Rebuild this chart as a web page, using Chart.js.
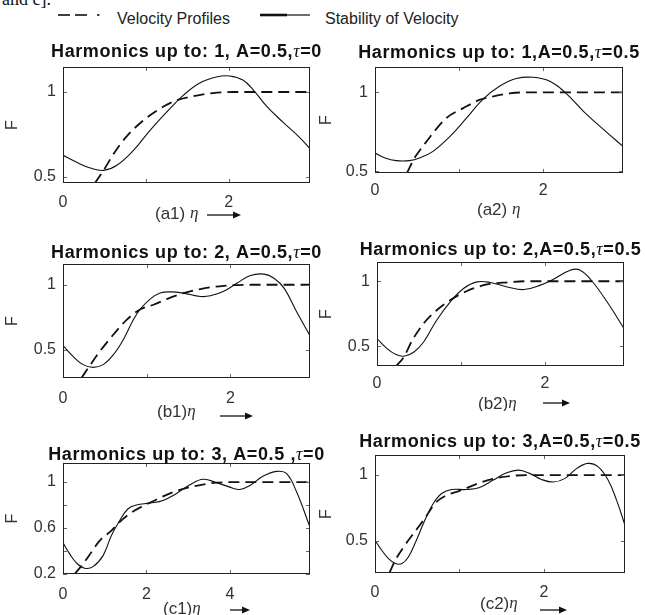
<!DOCTYPE html>
<html>
<head>
<meta charset="utf-8">
<script src="https://cdn.jsdelivr.net/npm/chart.js@4.4.1/dist/chart.umd.min.js"></script>
<style>
  html, body { margin: 0; padding: 0; background: #fff; }
  body { width: 645px; height: 615px; position: relative; overflow: hidden; font-family: "Liberation Sans", Arial, sans-serif; }
  .panel { position: absolute; }
  #cut { position: absolute; left: 2px; top: -10px; font: 18px "Liberation Serif", serif; line-height: 18px; color: #111; }
  #legend { position: absolute; left: 0; top: 0; }
</style>
</head>
<body>
<div id="cut">and c].</div>
<svg id="legend" width="645" height="32">
  <g stroke="#111" stroke-width="1.6">
    <line x1="58" y1="15" x2="70" y2="15"/>
    <line x1="75" y1="15" x2="87" y2="15"/>
    <line x1="97" y1="15" x2="99.5" y2="15"/>
    <line x1="260" y1="15" x2="287" y2="15" stroke-width="2.6"/>
    <line x1="287" y1="15" x2="310" y2="15" stroke-width="1.2"/>
  </g>
  <g font-family="Liberation Sans, Arial, sans-serif" font-size="16" fill="#222">
    <text x="117" y="24">Velocity Profiles</text>
    <text x="325" y="24">Stability of Velocity</text>
  </g>
</svg>
<script>
// ---- data ----
const a1Eta = [0, 0.16, 0.33, 0.49, 0.65, 0.85, 1.05, 1.25, 1.45, 1.65, 1.85, 2.01, 2.17, 2.3, 2.45, 2.65, 2.85, 2.98];
const a1Stability = [0.628, 0.588, 0.553, 0.539, 0.569, 0.657, 0.775, 0.882, 0.98, 1.053, 1.088, 1.094, 1.07, 1.01, 0.92, 0.824, 0.735, 0.667];
const a1ProfileEta = [0.386, 0.49, 0.6, 0.76, 0.97, 1.17, 1.37, 1.57, 1.81, 2.05, 2.98];
const a1Profile = [0.465, 0.54, 0.628, 0.735, 0.833, 0.902, 0.951, 0.975, 0.994, 1.0, 1.0];

const a2Eta = [0, 0.12, 0.25, 0.41, 0.53, 0.69, 0.89, 1.09, 1.28, 1.48, 1.68, 1.88, 2.08, 2.26, 2.48, 2.72, 2.95];
const a2Stability = [0.616, 0.585, 0.568, 0.568, 0.585, 0.627, 0.72, 0.838, 0.954, 1.038, 1.087, 1.095, 1.07, 1.0, 0.88, 0.764, 0.658];
const a2ProfileEta = [0.38, 0.47, 0.57, 0.69, 0.85, 1.05, 1.25, 1.41, 1.6, 1.8, 2.95];
const a2Profile = [0.49, 0.585, 0.658, 0.743, 0.838, 0.9, 0.954, 0.975, 0.993, 1.0, 1.0];

const b1Eta = [0, 0.12, 0.24, 0.36, 0.48, 0.6, 0.72, 0.84, 0.92, 1.04, 1.16, 1.28, 1.44, 1.64, 1.76, 1.92, 2.08, 2.24, 2.4, 2.52, 2.64, 2.8, 2.95];
const b1Stability = [0.531, 0.448, 0.385, 0.364, 0.385, 0.46, 0.577, 0.73, 0.81, 0.89, 0.936, 0.945, 0.936, 0.91, 0.915, 0.95, 1.013, 1.072, 1.082, 1.05, 0.974, 0.78, 0.608];
const b1ProfileEta = [0.22, 0.32, 0.44, 0.6, 0.76, 0.92, 1.08, 1.24, 1.44, 1.64, 1.92, 2.24, 2.95];
const b1Profile = [0.282, 0.377, 0.487, 0.615, 0.73, 0.81, 0.846, 0.89, 0.936, 0.967, 0.992, 1.0, 1.0];

const b2Eta = [0, 0.12, 0.22, 0.32, 0.44, 0.555, 0.71, 0.87, 1.03, 1.19, 1.35, 1.55, 1.75, 1.945, 2.1, 2.3, 2.42, 2.56, 2.74, 2.94];
const b2Stability = [0.559, 0.482, 0.438, 0.423, 0.456, 0.533, 0.7, 0.84, 0.944, 0.995, 0.99, 0.956, 0.936, 0.97, 1.015, 1.085, 1.085, 1.0, 0.84, 0.636];
const b2ProfileEta = [0.23, 0.32, 0.42, 0.555, 0.71, 0.87, 1.07, 1.31, 1.55, 1.79, 2.94];
const b2Profile = [0.348, 0.418, 0.546, 0.675, 0.777, 0.854, 0.925, 0.975, 0.992, 1.0, 1.0];

const c1Eta = [0, 0.16, 0.32, 0.52, 0.72, 0.96, 1.16, 1.36, 1.56, 1.76, 2.08, 2.4, 2.72, 3.04, 3.36, 3.68, 4.0, 4.24, 4.48, 4.8, 5.12, 5.36, 5.6, 5.92];
const c1Stability = [0.471, 0.375, 0.297, 0.25, 0.264, 0.36, 0.535, 0.666, 0.768, 0.8, 0.817, 0.84, 0.9, 0.977, 1.024, 0.995, 0.956, 0.936, 0.97, 1.052, 1.093, 1.073, 0.913, 0.607];
const c1ProfileEta = [0.28, 0.48, 0.68, 0.88, 1.16, 1.44, 1.72, 2.08, 2.64, 3.12, 3.68, 4.16, 5.92];
const c1Profile = [0.2, 0.288, 0.389, 0.49, 0.578, 0.68, 0.753, 0.82, 0.913, 0.962, 0.995, 1.0, 1.0];

const c2Eta = [0, 0.08, 0.16, 0.24, 0.32, 0.395, 0.49, 0.59, 0.69, 0.79, 0.91, 1.08, 1.24, 1.4, 1.56, 1.7, 1.83, 1.97, 2.11, 2.25, 2.39, 2.52, 2.64, 2.76, 2.86, 2.96];
const c2Stability = [0.504, 0.427, 0.364, 0.326, 0.326, 0.376, 0.504, 0.656, 0.784, 0.86, 0.89, 0.89, 0.906, 0.962, 1.018, 1.038, 1.013, 0.967, 0.947, 0.975, 1.051, 1.089, 1.064, 0.962, 0.809, 0.618];
const c2ProfileEta = [0.17, 0.24, 0.34, 0.47, 0.59, 0.71, 0.85, 1.0, 1.24, 1.48, 1.8, 2.96];
const c2Profile = [0.254, 0.351, 0.453, 0.567, 0.67, 0.784, 0.847, 0.88, 0.941, 0.982, 1.0, 1.0];

// tick values and the ones that carry a label
const etaTicks = [0, 1, 2];
const etaTickLabels = [0, 2];
const c1EtaTicks = [0, 2, 4];
const c1EtaTickLabels = [0, 2, 4];
const fTicks = [0.5, 1];
const fTickLabels = [0.5, 1];
const c1FTicks = [0.2, 0.4, 0.6, 0.8, 1];
const c1FTickLabels = [0.2, 0.6, 1];

const titles = [
    ['Harmonics up to: 1, A=0.5,', '=0'],
    ['Harmonics up to: 1,A=0.5,', '=0.5'],
    ['Harmonics up to: 2, A=0.5,', '=0'],
    ['Harmonics up to: 2,A=0.5,', '=0.5'],
    ['Harmonics up to: 3, A=0.5 ,', '=0'],
    ['Harmonics up to: 3,A=0.5,', '=0.5'],
];
const panelLabels = ['(a1) ', '(a2) ', '(b1)', '(b2)', '(c1)', '(c2)'];

const SANS = '"Liberation Sans", Arial, sans-serif';
const SERIF = '"Liberation Serif", "DejaVu Serif", serif';

function zip(xs, ys) {
    return xs.map((x, i) => ({ x, y: ys[i] }));
}

function drawRuns(ctx, runs, x, y, centred) {
    let w = 0;
    runs.forEach(r => { ctx.font = r.font; w += ctx.measureText(r.text).width; });
    let px = centred ? x - w / 2 : x;
    runs.forEach(r => {
        ctx.font = r.font;
        ctx.fillText(r.text, px, y);
        px += ctx.measureText(r.text).width;
    });
}

// frame, inward ticks, titles and axis captions
const decor = {
    id: 'decor',
    afterDatasetsDraw(chart, args, opts) {
        const { ctx, chartArea: a, scales: { x, y } } = chart;
        ctx.save();

        ctx.strokeStyle = '#666';
        ctx.lineWidth = 1;
        ctx.beginPath();
        opts.xTicks.forEach(v => {
            const px = Math.round(x.getPixelForValue(v)) + 0.5;
            ctx.moveTo(px, a.bottom); ctx.lineTo(px, a.bottom - 4);
            ctx.moveTo(px, a.top); ctx.lineTo(px, a.top + 4);
        });
        opts.yTicks.forEach(v => {
            const py = Math.round(y.getPixelForValue(v)) + 0.5;
            ctx.moveTo(a.left, py); ctx.lineTo(a.left + 4, py);
            ctx.moveTo(a.right, py); ctx.lineTo(a.right - 4, py);
        });
        ctx.stroke();

        ctx.strokeStyle = '#222';
        ctx.strokeRect(a.left + 0.5, a.top + 0.5, a.width - 1, a.height - 1);

        // title
        ctx.fillStyle = '#111';
        ctx.textBaseline = 'alphabetic';
        ctx.textAlign = 'left';
        if ('letterSpacing' in ctx) ctx.letterSpacing = '0.6px';
        drawRuns(ctx, [
            { text: opts.title[0], font: 'bold 18px ' + SANS },
            { text: '\u03C4', font: 'italic 18px ' + SERIF },
            { text: opts.title[1], font: 'bold 18px ' + SANS },
        ], (a.left + a.right) / 2, a.top + opts.titleDy, true);
        if ('letterSpacing' in ctx) ctx.letterSpacing = '0px';

        // F
        ctx.fillStyle = '#333';
        ctx.save();
        ctx.translate(a.left + opts.fDx, (a.top + a.bottom) / 2);
        ctx.rotate(-Math.PI / 2);
        ctx.textAlign = 'center';
        ctx.textBaseline = 'middle';
        ctx.font = '16px ' + SANS;
        ctx.fillText('F', 0, 0);
        ctx.restore();

        // (a1) eta caption with arrow
        ctx.textBaseline = 'middle';
        ctx.textAlign = 'left';
        drawRuns(ctx, [
            { text: opts.label, font: '17px ' + SANS },
            { text: '\u03B7', font: 'italic 17px ' + SERIF },
        ], a.left + opts.labelAt[0], a.bottom + opts.labelAt[1], false);

        if (opts.arrow) {
            const [x0, x1, dy] = opts.arrow;
            const ay = a.bottom + dy;
            ctx.strokeStyle = '#111';
            ctx.fillStyle = '#111';
            ctx.lineWidth = 1.3;
            ctx.beginPath();
            ctx.moveTo(a.left + x0, ay);
            ctx.lineTo(a.left + x1 - 5, ay);
            ctx.stroke();
            ctx.beginPath();
            ctx.moveTo(a.left + x1, ay);
            ctx.lineTo(a.left + x1 - 8, ay - 3.5);
            ctx.lineTo(a.left + x1 - 8, ay + 3.5);
            ctx.closePath();
            ctx.fill();
        }
        ctx.restore();
    },
};

const panels = [
    { box: [63, 67, 310, 183], xMax: 2.98, yMin: 0.465, yMax: 1.147,
      eta: a1Eta, stab: a1Stability, profEta: a1ProfileEta, prof: a1Profile,
      xTicks: etaTicks, xLabels: etaTickLabels, yTicks: fTicks, yLabels: fTickLabels,
      xPad: 10, titleDy: -10, fDx: -50, labelAt: [92, 31], arrow: [144, 178, 32] },
    { box: [375, 67, 623, 173], xMax: 2.95, yMin: 0.49, yMax: 1.16,
      eta: a2Eta, stab: a2Stability, profEta: a2ProfileEta, prof: a2Profile,
      xTicks: etaTicks, xLabels: etaTickLabels, yTicks: fTicks, yLabels: fTickLabels,
      xPad: 8, titleDy: -9, fDx: -48, labelAt: [102, 37], arrow: null },
    { box: [63, 264, 310, 378], xMax: 2.95, yMin: 0.282, yMax: 1.16,
      eta: b1Eta, stab: b1Stability, profEta: b1ProfileEta, prof: b1Profile,
      xTicks: etaTicks, xLabels: etaTickLabels, yTicks: fTicks, yLabels: fTickLabels,
      xPad: 11, titleDy: -6, fDx: -50, labelAt: [94, 34], arrow: [157, 190, 38] },
    { box: [377, 262, 624, 366], xMax: 2.94, yMin: 0.348, yMax: 1.148,
      eta: b2Eta, stab: b2Stability, profEta: b2ProfileEta, prof: b2Profile,
      xTicks: etaTicks, xLabels: etaTickLabels, yTicks: fTicks, yLabels: fTickLabels,
      xPad: 8, titleDy: -7, fDx: -50, labelAt: [101, 38], arrow: [166, 193, 37] },
    { box: [63, 463, 310, 574], xMax: 5.92, yMin: 0.2, yMax: 1.166,
      eta: c1Eta, stab: c1Stability, profEta: c1ProfileEta, prof: c1Profile,
      xTicks: c1EtaTicks, xLabels: c1EtaTickLabels, yTicks: c1FTicks, yLabels: c1FTickLabels,
      xPad: 11, titleDy: -3, fDx: -50, labelAt: [100, 35], arrow: [167, 187, 36] },
    { box: [375, 455, 625, 573], xMax: 2.96, yMin: 0.254, yMax: 1.153,
      eta: c2Eta, stab: c2Stability, profEta: c2ProfileEta, prof: c2Profile,
      xTicks: etaTicks, xLabels: etaTickLabels, yTicks: fTicks, yLabels: fTickLabels,
      xPad: 10, titleDy: -8, fDx: -48, labelAt: [105, 31], arrow: [165, 192, 37] },
];

panels.forEach((p, i) => {
    const [L, T, R, B] = p.box;
    const holder = document.createElement('div');
    holder.className = 'panel';
    holder.style.left = (L - 60) + 'px';
    holder.style.top = (T - 30) + 'px';
    const canvas = document.createElement('canvas');
    canvas.width = R - L + 80;
    canvas.height = B - T + 75;
    holder.appendChild(canvas);
    document.body.appendChild(holder);

    new Chart(canvas, {
        type: 'line',
        data: {
            datasets: [
                {
                    label: 'Velocity Profiles',
                    data: zip(p.profEta, p.prof),
                    borderColor: '#111',
                    borderWidth: 1.8,
                    borderDash: [11, 6],
                    pointRadius: 0,
                    cubicInterpolationMode: 'monotone',
                },
                {
                    label: 'Stability of Velocity',
                    data: zip(p.eta, p.stab),
                    borderColor: '#111',
                    borderWidth: 1.1,
                    pointRadius: 0,
                    tension: 0.4,
                },
            ],
        },
        options: {
            responsive: false,
            animation: false,
            devicePixelRatio: 1,
            layout: { padding: { top: 30, right: 20, left: 0, bottom: 0 } },
            plugins: {
                legend: { display: false },
                tooltip: { enabled: false },
                title: { display: false },
                decor: {
                    xTicks: p.xTicks, yTicks: p.yTicks,
                    title: titles[i], titleDy: p.titleDy, fDx: p.fDx,
                    label: panelLabels[i], labelAt: p.labelAt, arrow: p.arrow,
                },
            },
            scales: {
                x: {
                    type: 'linear',
                    min: 0,
                    max: p.xMax,
                    grid: { display: false, drawTicks: false },
                    border: { display: false },
                    afterBuildTicks: s => { s.ticks = p.xTicks.map(v => ({ value: v })); },
                    afterFit: s => { s.height = 45; },
                    ticks: {
                        autoSkip: false,
                        maxRotation: 0,
                        padding: p.xPad,
                        color: '#333',
                        font: { size: 16, family: SANS },
                        callback: v => (p.xLabels.includes(v) ? String(v) : ''),
                    },
                },
                y: {
                    type: 'linear',
                    min: p.yMin,
                    max: p.yMax,
                    grid: { display: false, drawTicks: false },
                    border: { display: false },
                    afterBuildTicks: s => { s.ticks = p.yTicks.map(v => ({ value: v })); },
                    afterFit: s => { s.width = 60; },
                    ticks: {
                        autoSkip: false,
                        padding: 7,
                        color: '#333',
                        font: { size: 16, family: SANS },
                        callback: v => (p.yLabels.includes(v) ? String(v) : ''),
                    },
                },
            },
        },
        plugins: [decor],
    });
});
</script>
</body>
</html>
